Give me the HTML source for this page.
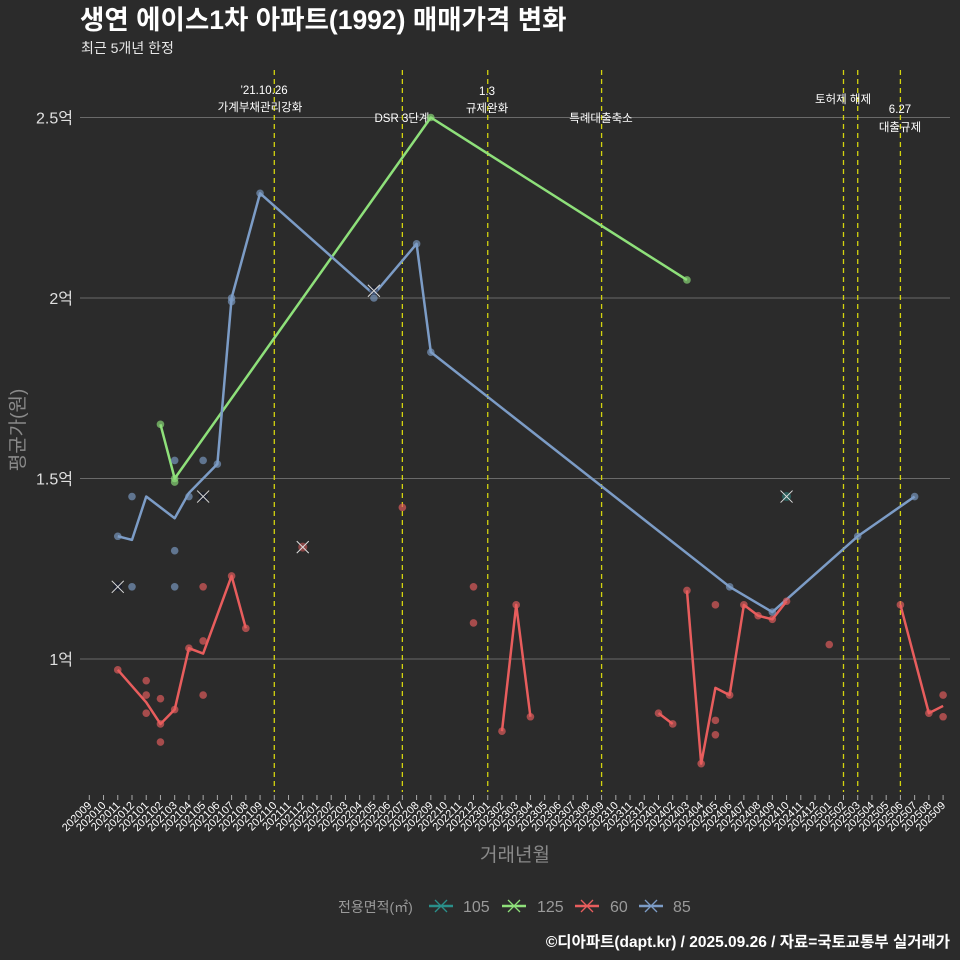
<!DOCTYPE html>
<html><head><meta charset="utf-8">
<style>
html,body{margin:0;padding:0;background:#2b2b2b;}
svg{display:block;font-family:"Liberation Sans","Noto Sans CJK KR",sans-serif;}
</style></head>
<body>
<svg id="chart" width="960" height="960" viewBox="0 0 960 960" xmlns="http://www.w3.org/2000/svg">
<rect width="960" height="960" fill="#2b2b2b"/>
<text x="80" y="29" fill="#ffffff" font-size="26.5" font-weight="bold">생연 에이스1차 아파트(1992) 매매가격 변화</text>
<text x="81" y="53" fill="#e8e8e8" font-size="14">최근 5개년 한정</text>
<g id="grid"></g>
<g id="events"></g>
<g id="series"></g>
<g id="axes"></g>
<text transform="translate(24,430) rotate(-90)" text-anchor="middle" fill="#8a8a8a" font-size="19">평균가(원)</text>
<text x="515" y="861" text-anchor="middle" fill="#8a8a8a" font-size="19">거래년월</text>
<g id="legend"></g>
<text x="950" y="947" text-anchor="end" fill="#ffffff" font-size="15.5" font-weight="bold">©디아파트(dapt.kr) / 2025.09.26 / 자료=국토교통부 실거래가</text>
</svg>
<script>
const months = [];
for (let y = 2020, m = 9; !(y === 2025 && m === 10); ) { months.push(String(y) + String(m).padStart(2, '0')); m++; if (m > 12) { m = 1; y++; } }
const yTicks = [1, 1.5, 2, 2.5];
const yTickLabels = ['1억', '1.5억', '2억', '2.5억'];
const eventMonths = ['202110', '202207', '202301', '202309', '202502', '202503', '202506'];
const line85 = [['202011',1.34],['202012',1.33],['202101',1.45],['202103',1.39],['202104',1.46],['202106',1.54],['202107',2.0],['202109',2.29],['202205',2.01],['202208',2.15],['202209',1.85],['202406',1.2],['202409',1.13],['202503',1.34],['202507',1.45]];
const dots85 = [['202011',1.34],['202012',1.2],['202012',1.45],['202103',1.55],['202103',1.30],['202103',1.2],['202104',1.45],['202105',1.55],['202106',1.54],['202107',2.0],['202107',1.99],['202109',2.29],['202205',2.0],['202208',2.15],['202209',1.85],['202406',1.2],['202409',1.13],['202503',1.34],['202507',1.45]];
const cross85 = [['202011',1.2],['202105',1.45],['202205',2.02]];
const line125 = [['202102',1.65],['202103',1.50],['202209',2.50],['202403',2.05]];
const dots125 = [['202102',1.65],['202103',1.50],['202103',1.49],['202209',2.50],['202403',2.05]];
const cross105 = [['202410',1.45]];
const line60 = [['202011',0.97],['202101',0.88],['202102',0.82],['202103',0.86],['202104',1.03],['202105',1.015],['202107',1.23],['202108',1.085],null,
  ['202302',0.80],['202303',1.15],['202304',0.84],null,['202401',0.85],['202402',0.82],null,
  ['202403',1.19],['202404',0.71],['202405',0.92],['202406',0.90],['202407',1.15],['202408',1.12],['202409',1.11],['202410',1.16],null,
  ['202506',1.15],['202508',0.85],['202509',0.87]];
const dots60 = [['202011',0.97],['202101',0.94],['202101',0.90],['202101',0.85],['202102',0.89],['202102',0.82],['202102',0.77],['202103',0.86],['202104',1.03],['202105',1.2],['202105',1.05],['202105',0.90],['202107',1.23],['202108',1.085],
  ['202207',1.42],['202212',1.2],['202212',1.1],['202302',0.80],['202303',1.15],['202304',0.84],['202401',0.85],['202402',0.82],
  ['202403',1.19],['202404',0.71],['202405',1.15],['202405',0.83],['202405',0.79],['202406',0.90],['202407',1.15],['202408',1.12],['202409',1.11],['202410',1.16],['202501',1.04],['202506',1.15],['202508',0.85],['202509',0.90],['202509',0.84]];
const cross60 = [['202112',1.31]];

const NS = 'http://www.w3.org/2000/svg';
const X0 = 89.3, DX = 14.23;
function xs(m) { return X0 + months.indexOf(m) * DX; }
function ys(v) { return 659 - (v - 1) * 361; }
function mk(tag, attrs, parent) { const e = document.createElementNS(NS, tag); for (const k in attrs) e.setAttribute(k, attrs[k]); parent.appendChild(e); return e; }
const grid = document.getElementById('grid'), axes = document.getElementById('axes'), ev = document.getElementById('events'), ser = document.getElementById('series');

yTicks.forEach((v, i) => {
  const l = mk('line', {x1: 80, x2: 950, y1: ys(v), y2: ys(v), stroke: '#6a6a6a', 'stroke-width': 1}, grid);
  
  
  const t = mk('text', {x: 73, y: ys(v) + 6, 'text-anchor': 'end', fill: '#e0e0e0', 'font-size': 16}, axes);
  t.textContent = yTickLabels[i];
  
  
});
months.forEach(m => {
  const x = xs(m);
  const tk = mk('line', {x1: x, x2: x, y1: 795, y2: 800, stroke: '#aaaaaa', 'stroke-width': 1}, axes);
  
  
  const t = mk('text', {x: x + 3, y: 806, 'text-anchor': 'end', fill: '#ffffff', 'font-size': 11, transform: `rotate(-45 ${x + 3} 806)`}, axes);
  t.textContent = m;
  
  
});
eventMonths.forEach(m => {
  const l = mk('line', {x1: xs(m), x2: xs(m), y1: 70, y2: 792, stroke: '#d4d40f', 'stroke-width': 1.3, 'stroke-dasharray': '5,4'}, ev);
  
  
});
const notes = [['\u201921.10.26', 264, 94], ['가계부채관리강화', 260, 111], ['DSR 3단계', 402, 122], ['1.3', 487, 95], ['규제완화', 487, 112], ['특례대출축소', 601, 122], ['토허제 해제', 843, 103], ['6.27', 900, 113], ['대출규제', 900, 131]];
notes.forEach(n => {
  const t = mk('text', {x: n[1], y: n[2], 'text-anchor': 'middle', fill: '#ffffff', 'font-size': 11.5}, ev);
  t.textContent = n[0];
  
  
});

function drawLine(data, color, name) {
  let segs = [], cur = [];
  data.forEach(p => { if (p === null) { if (cur.length) segs.push(cur); cur = []; } else cur.push(p); });
  if (cur.length) segs.push(cur);
  segs.forEach(s => {
    const pl = mk('polyline', {points: s.map(p => xs(p[0]) + ',' + ys(p[1])).join(' '), fill: 'none', stroke: color, 'stroke-width': 2.5, 'stroke-linejoin': 'round'}, ser);
    
    
  });
}
function drawDots(data, color, name) {
  data.forEach(p => {
    const c = mk('circle', {cx: xs(p[0]), cy: ys(p[1]), r: 3.8, fill: color, 'fill-opacity': 0.65}, ser);
    
    
  });
}
function drawCross(data, color, name) {
  data.forEach(p => {
    const x = xs(p[0]), y = ys(p[1]);
    const g = mk('g', {}, ser);
    
    
    mk('circle', {cx: x, cy: y, r: 4.5, fill: color, 'fill-opacity': 0.5}, g);
    mk('path', {d: `M${x-6},${y-6}L${x+6},${y+6}M${x-6},${y+6}L${x+6},${y-6}`, stroke: '#dddddd', 'stroke-width': 1}, g);
  });
}
const C105 = '#2a8f8a', C125 = '#8ee07a', C60 = '#e85d5d', C85 = '#7c9cc6';
drawLine(line125, C125, 'line-125');
drawLine(line85, C85, 'line-85');
drawLine(line60, C60, 'line-60');
drawDots(dots125, C125, 'point-125');
drawDots(dots85, C85, 'point-85');
drawDots(dots60, C60, 'point-60');
drawCross(cross85, '#101830', 'cancel-85');
drawCross(cross60, C60, 'cancel-60');
drawCross(cross105, C105, 'cancel-105');

const lg = document.getElementById('legend');
const lt = mk('text', {x: 338, y: 912, fill: '#9a9a9a', 'font-size': 14}, lg);
lt.textContent = '전용면적(㎡)';


[['105', C105, 441, 463], ['125', C125, 514, 537], ['60', C60, 587, 610], ['85', C85, 651, 673]].forEach(e => {
  const g = mk('g', {}, lg);
  
  
  const cx = e[2], cy = 906;
  mk('line', {x1: cx - 12, x2: cx + 12, y1: cy, y2: cy, stroke: e[1], 'stroke-width': 2.5}, g);
  mk('path', {d: `M${cx-6},${cy-6}L${cx+6},${cy+6}M${cx-6},${cy+6}L${cx+6},${cy-6}`, stroke: e[1], 'stroke-width': 1.3}, g);
  const t = mk('text', {x: e[3], y: 912, fill: '#9a9a9a', 'font-size': 16}, g);
  t.textContent = e[0];
});
</script>
</body></html>
